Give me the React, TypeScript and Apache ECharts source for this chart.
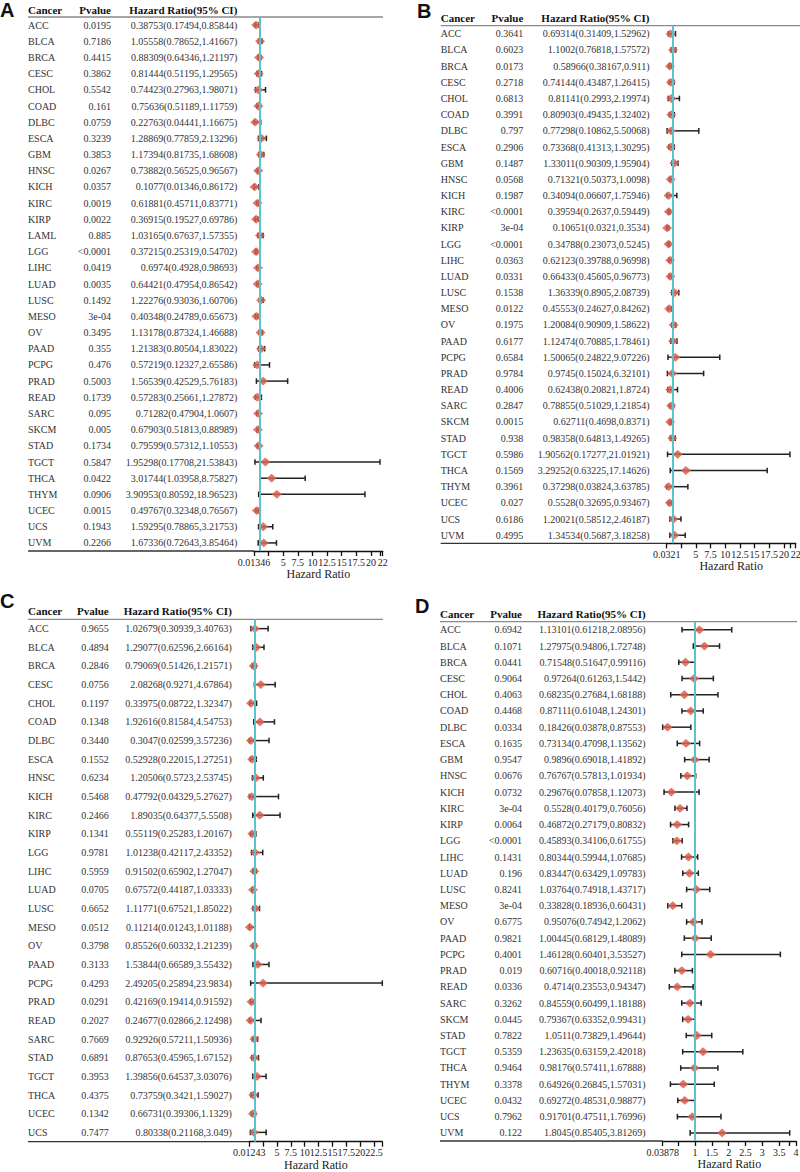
import React, { useEffect, useRef } from 'react';
import * as echarts from 'echarts';

// ---------------- Panel A ----------------
const cancersA = ['ACC','BLCA','BRCA','CESC','CHOL','COAD','DLBC','ESCA','GBM','HNSC','KICH','KIRC','KIRP','LAML','LGG','LIHC','LUAD','LUSC','MESO','OV','PAAD','PCPG','PRAD','READ','SARC','SKCM','STAD','TGCT','THCA','THYM','UCEC','UCS','UVM'];
const pvaluesA = ['0.0195','0.7186','0.4415','0.3862','0.5542','0.161','0.0759','0.3239','0.3853','0.0267','0.0357','0.0019','0.0022','0.885','<0.0001','0.0419','0.0035','0.1492','3e-04','0.3495','0.355','0.476','0.5003','0.1739','0.095','0.005','0.1734','0.5847','0.0422','0.0906','0.0015','0.1943','0.2266'];
const hrA = [0.38753,1.05558,0.88309,0.81444,0.74423,0.75636,0.22763,1.28869,1.17394,0.73882,0.1077,0.61881,0.36915,1.03165,0.37215,0.6974,0.64421,1.22276,0.40348,1.13178,1.21383,0.57219,1.56539,0.57283,0.71282,0.67903,0.79599,1.95298,3.01744,3.90953,0.49767,1.59295,1.67336];
const lowA = [0.17494,0.78652,0.64346,0.51195,0.27963,0.51189,0.04441,0.77859,0.81735,0.56525,0.01346,0.45711,0.19527,0.67637,0.25319,0.4928,0.47954,0.93036,0.24789,0.87324,0.80504,0.12327,0.42529,0.25661,0.47904,0.51813,0.57312,0.17708,1.03958,0.80592,0.32348,0.78865,0.72643];
const highA = [0.85844,1.41667,1.21197,1.29565,1.98071,1.11759,1.16675,2.13296,1.68608,0.96567,0.86172,0.83771,0.69786,1.57355,0.54702,0.98693,0.86542,1.60706,0.65673,1.46688,1.83022,2.65586,5.76183,1.27872,1.0607,0.88989,1.10553,21.53843,8.75827,18.96523,0.76567,3.21753,3.85464];
const ticksA = [0.01346, 2.5, 5, 7.5, 10, 12.5, 15, 17.5, 20, 21.53843, 22];
const tickLabelsA = [0.01346, 5, 7.5, 10, 12.5, 15, 17.5, 20, 22];
const axisMaxA = 22;

// ---------------- Panel B ----------------
const cancersB = ['ACC','BLCA','BRCA','CESC','CHOL','COAD','DLBC','ESCA','GBM','HNSC','KICH','KIRC','KIRP','LGG','LIHC','LUAD','LUSC','MESO','OV','PAAD','PCPG','PRAD','READ','SARC','SKCM','STAD','TGCT','THCA','THYM','UCEC','UCS','UVM'];
const pvaluesB = ['0.3641','0.6023','0.0173','0.2718','0.6813','0.3991','0.797','0.2906','0.1487','0.0568','0.1987','<0.0001','3e-04','<0.0001','0.0363','0.0331','0.1538','0.0122','0.1975','0.6177','0.6584','0.9784','0.4006','0.2847','0.0015','0.938','0.5986','0.1569','0.3961','0.027','0.6186','0.4995'];
const hrB = [0.69314,1.1002,0.58966,0.74144,0.81141,0.80903,0.77298,0.73368,1.33011,0.71321,0.34094,0.39594,0.10651,0.34788,0.62123,0.66433,1.36339,0.45553,1.20084,1.12474,1.50065,0.9745,0.62438,0.78855,0.62711,0.98358,1.90562,3.29252,0.37298,0.5528,1.20021,1.34534];
const lowB = [0.31409,0.76818,0.38167,0.43487,0.2993,0.49435,0.10862,0.41313,0.90309,0.50373,0.06607,0.2637,0.0321,0.23073,0.39788,0.45605,0.8905,0.24627,0.90909,0.70885,0.24822,0.15024,0.20821,0.51029,0.4698,0.64813,0.17277,0.63225,0.03824,0.32695,0.58512,0.5687];
const highB = [1.52962,1.57572,0.911,1.26415,2.19974,1.32402,5.50068,1.30295,1.95904,1.0098,1.75946,0.59449,0.3534,0.5245,0.96998,0.96773,2.08739,0.84262,1.58622,1.78461,9.07226,6.32101,1.8724,1.21854,0.8371,1.49265,21.01921,17.14626,3.63785,0.93467,2.46187,3.18258];
const ticksB = [0.0321, 2.5, 5, 7.5, 10, 12.5, 15, 17.5, 20, 21.01921, 22];
const tickLabelsB = [0.0321, 5, 7.5, 10, 12.5, 15, 17.5, 20, 22];
const axisMaxB = 22;

// ---------------- Panel C ----------------
const cancersC = ['ACC','BLCA','BRCA','CESC','CHOL','COAD','DLBC','ESCA','HNSC','KICH','KIRC','KIRP','LGG','LIHC','LUAD','LUSC','MESO','OV','PAAD','PCPG','PRAD','READ','SARC','STAD','TGCT','THCA','UCEC','UCS'];
const pvaluesC = ['0.9655','0.4894','0.2846','0.0756','0.1197','0.1348','0.3440','0.1552','0.6234','0.5468','0.2466','0.1341','0.9781','0.5959','0.0705','0.6652','0.0512','0.3798','0.3133','0.4293','0.0291','0.2027','0.7669','0.6891','0.3953','0.4375','0.1342','0.7477'];
const hrC = [1.02679,1.29077,0.79069,2.08268,0.33975,1.92616,0.3047,0.52928,1.20506,0.47792,1.89035,0.55119,1.01238,0.91502,0.67572,1.11771,0.11214,0.85526,1.53844,2.49205,0.42169,0.24677,0.92926,0.87653,1.39856,0.73759,0.66731,0.80338];
const lowC = [0.30939,0.62596,0.51426,0.9271,0.08722,0.81584,0.02599,0.22015,0.5723,0.04329,0.64377,0.25283,0.42117,0.65902,0.44187,0.67521,0.01243,0.60332,0.66589,0.25894,0.19414,0.02866,0.57211,0.45965,0.64537,0.3421,0.39306,0.21168];
const highC = [3.40763,2.66164,1.21571,4.67864,1.32347,4.54753,3.57236,1.27251,2.53745,5.27627,5.5508,1.20167,2.43352,1.27047,1.03333,1.85022,1.01188,1.21239,3.55432,23.9834,0.91592,2.12498,1.50936,1.67152,3.03076,1.59027,1.1329,3.049];
const ticksC = [0.01243, 2.5, 5, 7.5, 10, 12.5, 15, 17.5, 20, 22.5, 23.9834];
const tickLabelsC = [0.01243, 5, 7.5, 10, 12.5, 15, 17.5, 20, 22.5];
const axisMaxC = 23.9834;

// ---------------- Panel D ----------------
const cancersD = ['ACC','BLCA','BRCA','CESC','CHOL','COAD','DLBC','ESCA','GBM','HNSC','KICH','KIRC','KIRP','LGG','LIHC','LUAD','LUSC','MESO','OV','PAAD','PCPG','PRAD','READ','SARC','SKCM','STAD','TGCT','THCA','THYM','UCEC','UCS','UVM'];
const pvaluesD = ['0.6942','0.1071','0.0441','0.9064','0.4063','0.4468','0.0334','0.1635','0.9547','0.0676','0.0732','3e-04','0.0064','<0.0001','0.1431','0.196','0.8241','3e-04','0.6775','0.9821','0.4001','0.019','0.0336','0.3262','0.0445','0.7822','0.5359','0.9464','0.3378','0.0432','0.7962','0.122'];
const hrD = [1.13101,1.27975,0.71548,0.97264,0.68235,0.87111,0.18426,0.73134,0.9896,0.76767,0.29676,0.5528,0.46872,0.45893,0.80344,0.83447,1.03764,0.33828,0.95076,1.00445,1.46128,0.60716,0.4714,0.84559,0.79367,1.0511,1.23635,0.98176,0.64926,0.69272,0.91701,1.8045];
const lowD = [0.61218,0.94806,0.51647,0.61263,0.27684,0.61048,0.03878,0.47098,0.69018,0.57813,0.07858,0.40179,0.27179,0.34106,0.59944,0.63429,0.74918,0.18936,0.74942,0.68129,0.60401,0.40018,0.23553,0.60499,0.63352,0.73829,0.63159,0.57411,0.26845,0.48531,0.47511,0.85405];
const highD = [2.08956,1.72748,0.99116,1.5442,1.68188,1.24301,0.87553,1.13562,1.41892,1.01934,1.12073,0.76056,0.80832,0.61755,1.07685,1.09783,1.43717,0.60431,1.2062,1.48089,3.53527,0.92118,0.94347,1.18188,0.99431,1.49644,2.42018,1.67888,1.57031,0.98877,1.76996,3.81269];
const ticksD = [0.03878, 0.5, 1, 1.5, 2, 2.5, 3, 3.5, 3.81269, 4];
const tickLabelsD = [0.03878, 1, 1.5, 2, 2.5, 3, 3.5, 4];
const axisMaxD = 4;

const headers = ['Cancer', 'Pvalue', 'Hazard Ratio(95% CI)'];
const axisTitle = 'Hazard Ratio';
const refValue = 1;

const SERIF = 'Liberation Serif';
const SANS = 'Liberation Sans';

const panels = [
  { letter: 'A', cancers: cancersA, pv: pvaluesA, hr: hrA, lo: lowA, hi: highA, ticks: ticksA, labels: tickLabelsA, max: axisMaxA,
    lx: 0, ly: 10, left: 254, right: 382.7, top: 17, bottom: 551, colCancer: 28, colP: 111, colHR: 237.3, headY: 10, lineEnd: 383 },
  { letter: 'B', cancers: cancersB, pv: pvaluesB, hr: hrB, lo: lowB, hi: highB, ticks: ticksB, labels: tickLabelsB, max: axisMaxB,
    lx: 417, ly: 10.5, left: 666.7, right: 795.7, top: 25.7, bottom: 543.3, colCancer: 440.7, colP: 523.3, colHR: 649.5, headY: 18.3, lineEnd: 800 },
  { letter: 'C', cancers: cancersC, pv: pvaluesC, hr: hrC, lo: lowC, hi: highC, ticks: ticksC, labels: tickLabelsC, max: axisMaxC,
    lx: 0, ly: 600.5, left: 249.3, right: 382.3, top: 619.3, bottom: 1141.7, colCancer: 28, colP: 108.7, colHR: 231.8, headY: 610.7, lineEnd: 383 },
  { letter: 'D', cancers: cancersD, pv: pvaluesD, hr: hrD, lo: lowD, hi: highD, ticks: ticksD, labels: tickLabelsD, max: axisMaxD,
    lx: 415, ly: 605.5, left: 662.7, right: 796, top: 621.7, bottom: 1141, colCancer: 440, colP: 522, colHR: 645.7, headY: 614, lineEnd: 797 },
];

function buildOption() {
  const grid: any[] = [];
  const xAxis: any[] = [];
  const yAxis: any[] = [];
  const series: any[] = [];
  const graphic: any[] = [];

  panels.forEach((p, pi) => {
    grid.push({ left: p.left, top: p.top, width: p.right - p.left, height: p.bottom - p.top, containLabel: false, outerBoundsMode: 'none' });
    const minV = Math.min(...p.lo);
    xAxis.push({
      type: 'value', gridIndex: pi, min: minV, max: p.max, position: 'bottom',
      axisLine: { show: true, onZero: false, lineStyle: { color: '#111', width: 1.3 } },
      axisTick: { show: true, customValues: p.ticks, length: 5, lineStyle: { color: '#111', width: 1.3 } },
      axisLabel: { customValues: p.labels, formatter: (v: number) => String(v), fontFamily: SERIF, fontSize: 10, color: '#222', margin: 6 },
      splitLine: { show: false },
      name: axisTitle, nameLocation: 'middle', nameGap: 17,
      nameTextStyle: { fontFamily: SERIF, fontSize: 12, color: '#222' },
    });
    const base = pi * 4;
    yAxis.push({ type: 'category', gridIndex: pi, data: p.cancers, inverse: true, show: false });
    const textAxis = (x: number, align: string, fmt: (i: number) => string) => ({
      type: 'category', gridIndex: pi, data: p.cancers, inverse: true, position: 'left',
      offset: p.left - x,
      axisLine: { show: false }, axisTick: { show: false }, splitLine: { show: false },
      axisLabel: { interval: 0, margin: 0, align, fontFamily: SERIF, fontSize: 10, color: '#333',
        formatter: (_v: string, i: number) => fmt(i) },
    });
    yAxis.push(textAxis(p.colCancer, 'left', (i) => p.cancers[i]));
    yAxis.push(textAxis(p.colP, 'right', (i) => p.pv[i]));
    yAxis.push(textAxis(p.colHR, 'right', (i) => `${p.hr[i]}(${p.lo[i]},${p.hi[i]})`));

    series.push({
      type: 'line', xAxisIndex: pi, yAxisIndex: base, data: [], silent: true, z: 1,
      markLine: { silent: true, symbol: ['none', 'none'], label: { show: false },
        lineStyle: { color: '#5CC3CD', width: 2, type: 'solid' }, data: [{ xAxis: refValue }] },
    });
    series.push({
      type: 'custom', xAxisIndex: pi, yAxisIndex: base, z: 3,
      data: p.cancers.map((c, i) => [p.lo[i], p.hi[i], p.hr[i], i]),
      encode: { x: [0, 1, 2], y: 3 },
      renderItem: (params: any, api: any) => {
        const row = api.value(3);
        const lo = api.coord([api.value(0), row]);
        const hi = api.coord([api.value(1), row]);
        const c = api.coord([api.value(2), row]);
        const y = c[1];
        const cap = 2.8, dw = 5, dh = 4.4;
        const ls = { stroke: '#222', lineWidth: 1.5 };
        return {
          type: 'group',
          children: [
            { type: 'line', shape: { x1: lo[0], y1: y, x2: hi[0], y2: y }, style: ls },
            { type: 'line', shape: { x1: lo[0], y1: y - cap, x2: lo[0], y2: y + cap }, style: ls },
            { type: 'line', shape: { x1: hi[0], y1: y - cap, x2: hi[0], y2: y + cap }, style: ls },
            { type: 'polygon', shape: { points: [[c[0] - dw, y], [c[0], y - dh], [c[0] + dw, y], [c[0], y + dh]] },
              style: { fill: '#D9604E', opacity: 0.85 } },
          ],
        };
      },
    });

    const txt = (text: string, x: number, y: number, align: string, family: string, size: number) => ({
      type: 'text', x, y, silent: true,
      style: { text, fontFamily: family, fontSize: size, fontWeight: 'bold', fill: '#111', align, verticalAlign: 'middle' },
    });
    graphic.push(txt(p.letter, p.lx, p.ly, 'left', SANS, 20));
    graphic.push(txt(headers[0], p.colCancer, p.headY, 'left', SERIF, 11));
    graphic.push(txt(headers[1], p.colP, p.headY, 'right', SERIF, 11));
    graphic.push(txt(headers[2], p.colHR, p.headY, 'right', SERIF, 11));
    graphic.push({ type: 'line', silent: true, shape: { x1: p.colCancer, y1: p.top, x2: p.lineEnd, y2: p.top },
      style: { stroke: '#8a8a8a', lineWidth: 1.3 } });
    graphic.push({ type: 'line', silent: true, shape: { x1: p.colCancer, y1: p.bottom, x2: p.left, y2: p.bottom },
      style: { stroke: '#333', lineWidth: 1.3 } });
  });

  return { animation: false, backgroundColor: '#fff', grid, xAxis, yAxis, series, graphic };
}

export default function App() {
  const ref = useRef<HTMLDivElement>(null);
  useEffect(() => {
    if (!ref.current) return;
    const chart = echarts.init(ref.current, undefined, { renderer: 'svg' });
    chart.setOption(buildOption() as any);
    return () => chart.dispose();
  }, []);
  return <div ref={ref} style={{ position: 'absolute', left: 0, top: 0, width: 800, height: 1172, background: '#fff' }} />;
}
